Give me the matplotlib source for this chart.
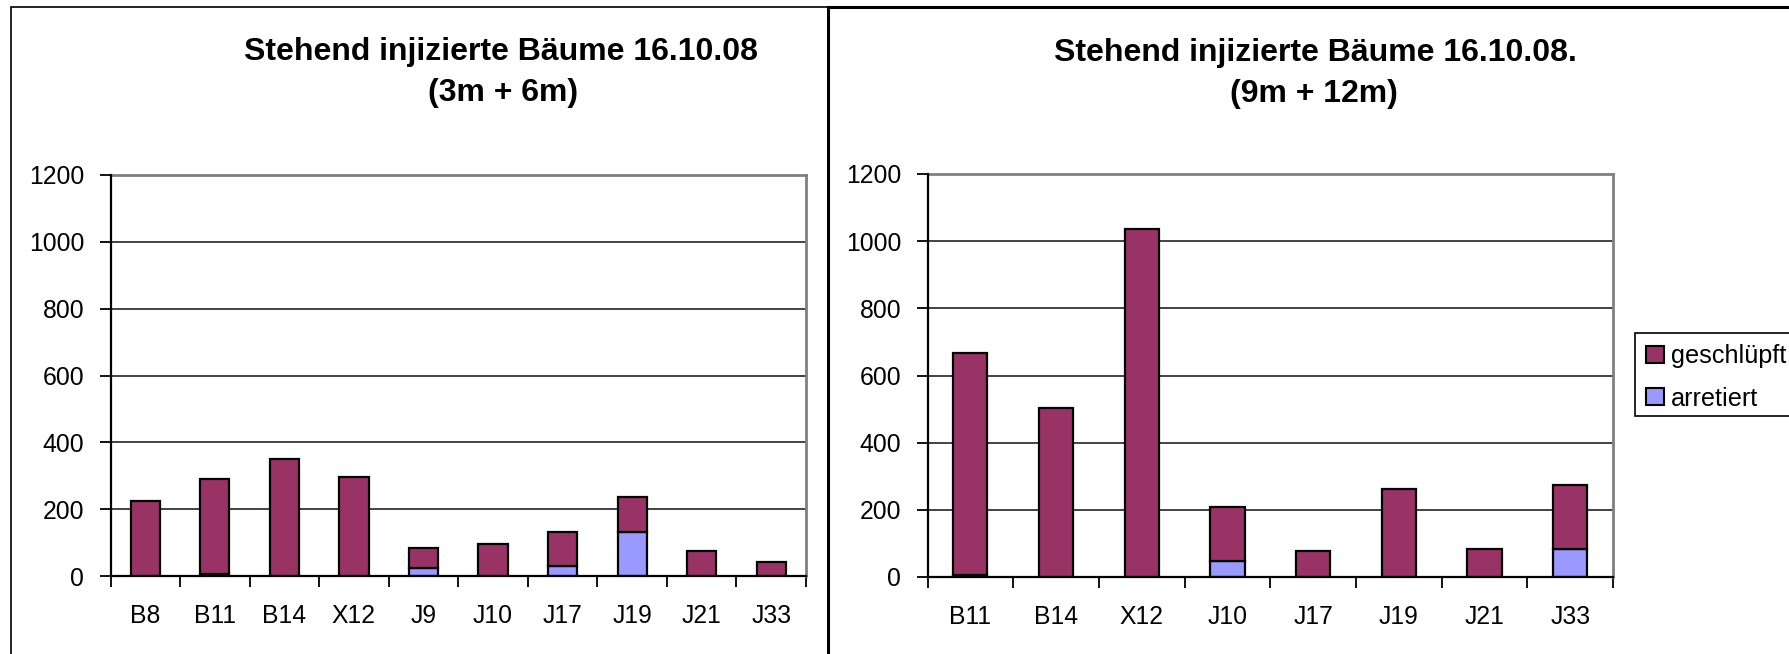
import matplotlib
matplotlib.use('Agg')
import matplotlib.pyplot as plt
from matplotlib.patches import Rectangle, Patch
import numpy as np

plt.rcParams['font.family'] = ['Liberation Sans', 'DejaVu Sans']

# ---- data ----
left_cats = ['B8', 'B11', 'B14', 'X12', 'J9', 'J10', 'J17', 'J19', 'J21', 'J33']
left_arretiert = [0, 5, 0, 0, 24, 0, 30, 132, 0, 0]
left_geschluepft = [224, 285, 350, 296, 61, 96, 102, 103, 74, 42]

right_cats = ['B11', 'B14', 'X12', 'J10', 'J17', 'J19', 'J21', 'J33']
right_arretiert = [5, 0, 0, 47, 0, 0, 0, 82]
right_geschluepft = [663, 502, 1036, 160, 77, 262, 83, 191]

title_left = ['Stehend injizierte Bäume 16.10.08', '(3m + 6m)']
title_right = ['Stehend injizierte Bäume 16.10.08.', '(9m + 12m)']
series_names = ['geschlüpft', 'arretiert']
series_colors = ['#993366', '#9999FF']
yticks = [0, 200, 400, 600, 800, 1000, 1200]

W, H = 1789, 654
fig = plt.figure(figsize=(W / 100, H / 100), dpi=100)
fig.patch.set_facecolor('white')


def px_axes(x0, y0, x1, y1):
    return fig.add_axes([x0 / W, 1 - y1 / H, (x1 - x0) / W, (y1 - y0) / H])


def draw(ax, cats, arr, ges, width):
    x = np.arange(len(cats))
    ax.bar(x, arr, width, color=series_colors[1], edgecolor='black',
           linewidth=1.6, zorder=3)
    ax.bar(x, ges, width, bottom=arr, color=series_colors[0],
           edgecolor='black', linewidth=1.6, zorder=3)
    ax.set_xlim(-0.5, len(cats) - 0.5)
    ax.set_ylim(0, 1200)
    ax.set_yticks(yticks)
    ax.yaxis.grid(True, color='#222222', linewidth=1.2)
    ax.set_axisbelow(True)
    ax.set_xticks(x)
    ax.set_xticklabels(cats)
    ax.set_xticks(np.arange(len(cats) + 1) - 0.5, minor=True)
    ax.tick_params(axis='x', which='major', length=0, pad=20, labelsize=17.8)
    ax.tick_params(axis='x', which='minor', length=8, width=1.3,
                   direction='out', color='black')
    ax.tick_params(axis='y', length=8, width=1.3, pad=11, labelsize=17.8)
    for s in ['top', 'right']:
        ax.spines[s].set_color('#808080')
        ax.spines[s].set_linewidth(2)
    for s in ['left', 'bottom']:
        ax.spines[s].set_color('black')
        ax.spines[s].set_linewidth(1.6)
        ax.spines[s].set_zorder(4)


axL = px_axes(110.5, 175, 806, 576)
draw(axL, left_cats, left_arretiert, left_geschluepft, 0.42)
axR = px_axes(927.5, 174, 1613, 577)
draw(axR, right_cats, right_arretiert, right_geschluepft, 0.40)

# titles
fig.text(501 / W, 1 - 60 / H, title_left[0], ha='center', va='baseline',
         fontsize=23, fontweight='bold')
fig.text(503 / W, 1 - 101 / H, title_left[1], ha='center', va='baseline',
         fontsize=23, fontweight='bold')
fig.text(1315 / W, 1 - 61 / H, title_right[0], ha='center', va='baseline',
         fontsize=23, fontweight='bold')
fig.text(1314 / W, 1 - 102 / H, title_right[1], ha='center', va='baseline',
         fontsize=23, fontweight='bold')

# panel borders
fig.add_artist(Rectangle((11 / W, 1 - 700 / H), (828 - 11) / W, (700 - 7) / H,
                         transform=fig.transFigure, fill=False,
                         edgecolor='black', linewidth=1.2))
fig.add_artist(Rectangle((828 / W, 1 - 700 / H), (1850 - 828) / W, (700 - 7) / H,
                         transform=fig.transFigure, fill=False,
                         edgecolor='black', linewidth=2.2))

# legend frame runs past the right edge of the picture, as in the original
fig.add_artist(Rectangle((1635 / W, 1 - 416 / H), (1850 - 1635) / W, (416 - 333) / H,
                         transform=fig.transFigure, facecolor='white',
                         edgecolor='black', linewidth=1.2))
handles = [Patch(facecolor=c, edgecolor='black', linewidth=1.5) for c in series_colors]
leg = fig.legend(handles, series_names, loc='upper left',
                 bbox_to_anchor=(1635 / W, 1 - 333 / H),
                 fontsize=18.2, frameon=False,
                 handlelength=0.68, handleheight=0.68, handletextpad=0.3,
                 borderpad=0.45, labelspacing=0.72, borderaxespad=0)

fig.savefig('out.png', dpi=100, facecolor='white')
